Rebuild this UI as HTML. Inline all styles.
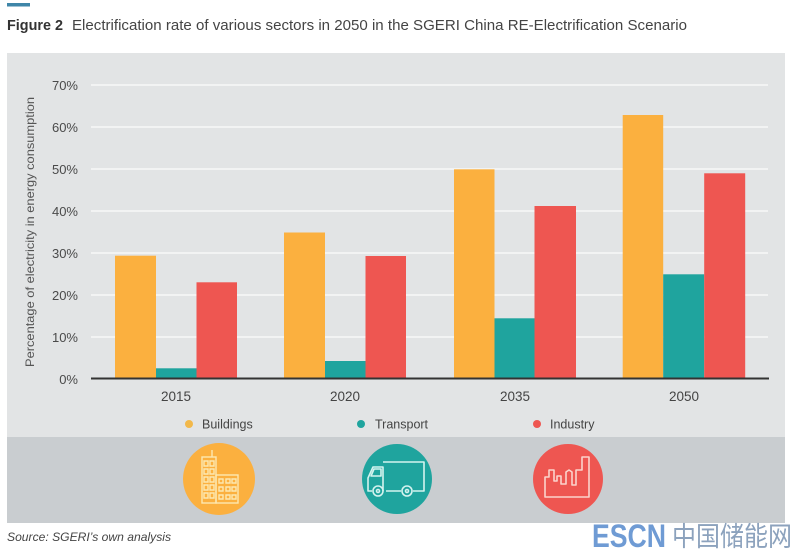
<!DOCTYPE html>
<html><head><meta charset="utf-8"><style>
html,body{margin:0;padding:0;background:#fff;}
svg{display:block;}
text{font-family:"Liberation Sans","Noto Sans CJK SC",sans-serif;}
</style></head><body>
<svg width="800" height="554" viewBox="0 0 800 554" xmlns="http://www.w3.org/2000/svg">
<rect x="0" y="0" width="800" height="554" fill="#ffffff"/>
<rect x="7" y="3" width="23" height="3.5" fill="#3f86a8"/>
<text x="7" y="30" font-size="14.5" font-weight="bold" fill="#333" textLength="56" lengthAdjust="spacingAndGlyphs">Figure 2</text>
<text x="72" y="30" font-size="14.5" fill="#444" textLength="615" lengthAdjust="spacingAndGlyphs">Electrification rate of various sectors in 2050 in the SGERI China RE-Electrification Scenario</text>

<rect x="7" y="53" width="778" height="384" fill="#e2e4e5"/>
<rect x="7" y="437" width="778" height="86" fill="#c9cdd0"/>

<g stroke="#f7f8f8" stroke-width="1.5">
<line x1="91" y1="85" x2="768" y2="85"/>
<line x1="91" y1="127" x2="768" y2="127"/>
<line x1="91" y1="169" x2="768" y2="169"/>
<line x1="91" y1="211" x2="768" y2="211"/>
<line x1="91" y1="253" x2="768" y2="253"/>
<line x1="91" y1="295" x2="768" y2="295"/>
<line x1="91" y1="337" x2="768" y2="337"/>
</g>
<g font-size="13" fill="#4a4a4a" text-anchor="end">
<text x="78" y="90">70%</text>
<text x="78" y="132">60%</text>
<text x="78" y="174">50%</text>
<text x="78" y="216">40%</text>
<text x="78" y="258">30%</text>
<text x="78" y="300">20%</text>
<text x="78" y="342">10%</text>
<text x="78" y="384">0%</text>
</g>
<text transform="translate(34,232) rotate(-90)" font-size="12" fill="#555" text-anchor="middle" textLength="270" lengthAdjust="spacingAndGlyphs">Percentage of electricity in energy consumption</text>

<!-- bars -->
<g>
<rect x="115" y="255.7" width="41" height="122.8" fill="#fbb03f"/>
<rect x="156" y="368.3" width="40.5" height="10.2" fill="#1fa49e"/>
<rect x="196.5" y="282.3" width="40.5" height="96.2" fill="#ee5651"/>

<rect x="284" y="232.5" width="41" height="146" fill="#fbb03f"/>
<rect x="325" y="361" width="40.5" height="17.5" fill="#1fa49e"/>
<rect x="365.5" y="256" width="40.5" height="122.5" fill="#ee5651"/>

<rect x="454" y="169.3" width="40.5" height="209.2" fill="#fbb03f"/>
<rect x="494.5" y="318.3" width="40" height="60.2" fill="#1fa49e"/>
<rect x="534.5" y="206" width="41.5" height="172.5" fill="#ee5651"/>

<rect x="622.7" y="115" width="40.5" height="263.5" fill="#fbb03f"/>
<rect x="663.2" y="274.3" width="41" height="104.2" fill="#1fa49e"/>
<rect x="704.2" y="173.3" width="41" height="205.2" fill="#ee5651"/>
</g>
<line x1="91" y1="378.5" x2="769" y2="378.5" stroke="#333" stroke-width="2"/>

<g font-size="13.5" fill="#444" text-anchor="middle">
<text x="176" y="401">2015</text>
<text x="345" y="401">2020</text>
<text x="515" y="401">2035</text>
<text x="684" y="401">2050</text>
</g>

<!-- legend -->
<circle cx="189" cy="424" r="4" fill="#f2b84a"/>
<text x="202" y="428.5" font-size="12.5" fill="#444">Buildings</text>
<circle cx="361" cy="424" r="4" fill="#1fa49e"/>
<text x="375" y="428.5" font-size="12.5" fill="#444">Transport</text>
<circle cx="537" cy="424" r="4" fill="#ee5651"/>
<text x="550" y="428.5" font-size="12.5" fill="#444">Industry</text>

<!-- icons -->
<circle cx="219" cy="479" r="36" fill="#fbb03f"/>
<g fill="none" stroke="#fde8b0" stroke-width="1.4">
<rect x="202" y="457" width="14" height="46"/>
<line x1="212" y1="457" x2="212" y2="450"/>
<rect x="216" y="475" width="22" height="28"/>
<path d="M204 461h4v5h-4zM210 461h4v5h-4zM204 469h4v5h-4zM210 469h4v5h-4zM204 477h4v5h-4zM210 477h4v5h-4zM204 485h4v5h-4zM210 485h4v5h-4zM204 493h4v5h-4zM210 493h4v5h-4z"/>
<path d="M219 479h4v4h-4zM226 479h4v4h-4zM232 479h4v4h-4zM219 487h4v4h-4zM226 487h4v4h-4zM232 487h4v4h-4zM219 495h4v4h-4zM226 495h4v4h-4zM232 495h4v4h-4z"/>
</g>

<circle cx="397" cy="479" r="35" fill="#1fa49e"/>
<g fill="none" stroke="#d4f3ef" stroke-width="1.6" stroke-linejoin="round">
<path d="M383 462 H424 V491 H413 M401 491 H386 M372 491 H368 V478 L373 467 H383 V491"/>
<path d="M371 476 L374 469 H381 V476 Z"/>
<circle cx="378" cy="491" r="5"/>
<circle cx="407" cy="491" r="5"/>
<circle cx="378" cy="491" r="1.5"/>
<circle cx="407" cy="491" r="1.5"/>
</g>

<circle cx="568" cy="479" r="35" fill="#ee5651"/>
<g fill="none" stroke="#fbd3cc" stroke-width="1.6" stroke-linejoin="round">
<path d="M545 497 V477 L549 477 L549 470 L554 470 L554 481 L557 481 L557 476 L561 476 L561 484 L566 484 L566 472 L569 470 L572 472 L572 485 L576 485 L576 470 L582 470 L582 457 L589 457 L589 497 Z"/>
</g>

<text x="7" y="541" font-size="12" font-style="italic" fill="#444" textLength="164" lengthAdjust="spacingAndGlyphs">Source: SGERI’s own analysis</text>

<text x="592" y="547" font-size="32" font-weight="bold" fill="#6f9bd4" textLength="74" lengthAdjust="spacingAndGlyphs">ESCN</text>
<text x="672" y="546" font-size="27" fill="#8ca2bd" textLength="120" lengthAdjust="spacingAndGlyphs" style="font-family:'Noto Sans CJK SC',sans-serif">中国储能网</text>
</svg>
</body></html>
